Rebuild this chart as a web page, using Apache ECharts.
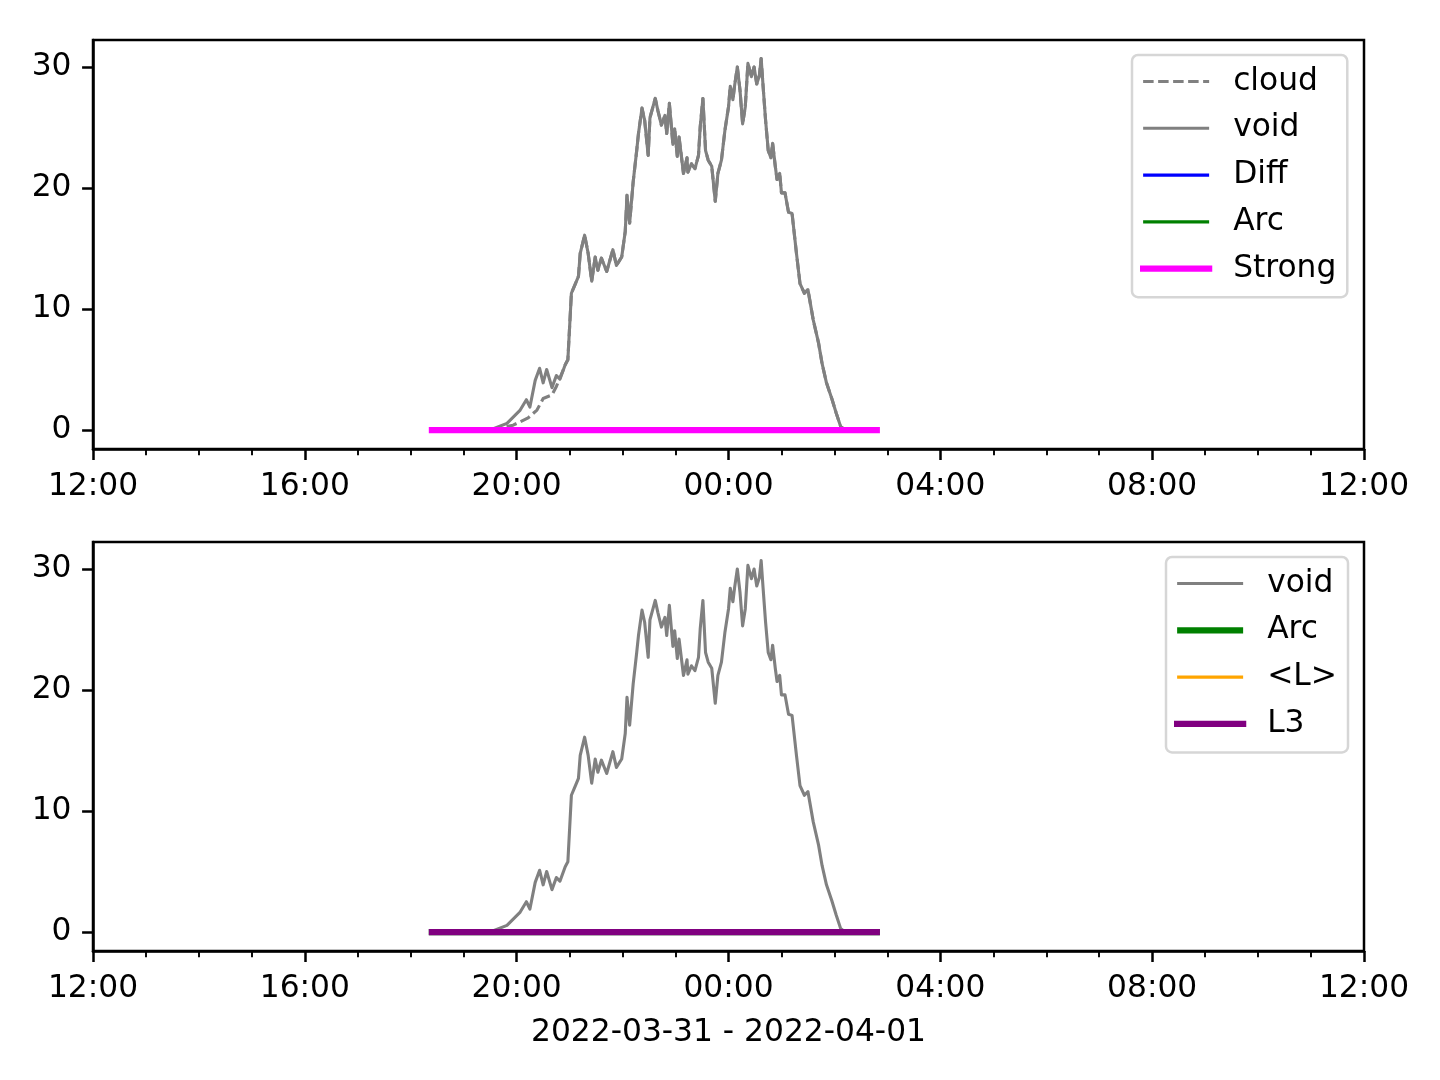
<!DOCTYPE html>
<html><head><meta charset="utf-8">
<script src="https://cdn.jsdelivr.net/npm/echarts@6/dist/echarts.min.js"></script>
<style>html,body{margin:0;padding:0;background:#fff}#c{width:1440px;height:1080px}</style>
</head><body><div id="c"></div>
<script>
// ---- data ----
const xTickLabels = ['12:00','16:00','20:00','00:00','04:00','08:00','12:00'];
const yTickValues = [0, 10, 20, 30];
const dateLabel = '2022-03-31 - 2022-04-01';

const voidTimes = ['18:24','19:30','19:49','20:04','20:11','20:15','20:21','20:26','20:30','20:34',
 '20:40','20:45','20:49','20:55','20:58','21:02','21:06','21:10','21:12','21:17',
 '21:21','21:25','21:29','21:32','21:36','21:42','21:49','21:53','21:59','22:03',
 '22:05','22:08','22:12','22:16','22:18','22:22','22:25','22:29','22:31','22:37',
 '22:40','22:44','22:48','22:50','22:53','22:57','22:59','23:02','23:04','23:09',
 '23:13','23:14','23:18','23:22','23:26','23:28','23:31','23:34','23:37','23:41',
 '23:45','23:48','23:52','23:56','00:00','00:02','00:05','00:07','00:10','00:13',
 '00:16','00:19','00:22','00:26','00:29','00:32','00:35','00:37','00:39','00:42',
 '00:45','00:48','00:50','00:53','00:55','00:58','01:00','01:04','01:08','01:12',
 '01:17','01:21','01:26','01:30','01:36','01:42','01:46','01:51','01:57','02:02',
 '02:07','02:12','02:48'];
const voidValues = [0,0,0.55,1.65,2.5,1.9,4.1,5.1,3.9,5.0,
 3.5,4.5,4.2,5.4,5.8,11.3,12.0,12.7,14.6,16.1,
 14.6,12.3,14.3,13.2,14.2,13.1,14.9,13.6,14.3,16.4,
 19.4,17.1,20.5,23.1,24.5,26.6,25.6,22.7,25.8,27.4,
 26.4,25.2,26.0,24.5,27.0,23.6,24.9,22.6,24.2,21.2,
 22.5,21.3,22.0,21.6,22.7,25.1,27.4,23.1,22.3,21.8,
 18.9,21.2,22.3,24.8,26.7,28.4,27.3,28.5,30.0,28.1,
 25.3,26.7,30.3,29.2,30.0,28.6,29.3,30.7,28.6,25.6,
 23.1,22.5,23.7,21.8,20.7,21.2,19.6,19.6,18.0,17.9,
 14.6,12.1,11.3,11.6,9.1,7.2,5.5,3.9,2.6,1.4,
 0.3,0,0];
// cloud differs from void only in the early rise; afterwards it lies on void
const cloudEarlyTimes = ['18:24','19:30','19:56','20:13','20:23','20:30','20:40','20:45','20:53'];
const cloudEarlyValues = [0,0,0.4,1.0,1.65,2.6,2.9,3.6,5.0];
const cloudJoinTime = '20:55';

const flatTimes = ['18:24','02:48'];
const diffValues = [0,0];
const arcValues = [0,0];
const strongValues = [0,0];
const lValues = [0,0];
const l3Values = [0,0];

// ---- helpers ----
function toH(s){ const p=s.split(':').map(Number); return (p[0]<12?p[0]+24:p[0]) - 12 + p[1]/60; }
function pts(times, vals){ return times.map((t,i)=>[toH(t), vals[i]]); }
const voidData = pts(voidTimes, voidValues);
const joinH = toH(cloudJoinTime);
const cloudData = pts(cloudEarlyTimes, cloudEarlyValues).concat(voidData.filter(p=>p[0]>=joinH));

const FONT = 'DejaVu Sans';
const FS = 31.3;
const LW1 = 3.1, LW2 = 6.25;
const GRAY='#808080', BLUE='#0000ff', GREEN='#008000', MAG='#ff00ff', ORANGE='#ffa500', PURPLE='#800080';
const DASH=[10.5,4.5];

function xAxis(gi, withName){
  const a = {
    type:'value', gridIndex:gi, min:0, max:24, interval:4,
    axisLine:{show:true,onZero:false,lineStyle:{color:'#000',width:2.5}},
    axisTick:{show:true,length:10.9,lineStyle:{color:'#000',width:2.5}},
    minorTick:{show:true,splitNumber:4,length:6.25,lineStyle:{color:'#000',width:1.9}},
    splitLine:{show:false}, minorSplitLine:{show:false},
    axisLabel:{fontFamily:FONT,fontSize:FS,color:'#000',margin:22,
      formatter:v=>xTickLabels[Math.round(v/4)]}
  };
  if(withName){
    a.name = dateLabel; a.nameLocation='middle'; a.nameGap=66;
    a.nameTextStyle={fontFamily:FONT,fontSize:FS,color:'#000'};
  }
  return a;
}
function yAxis(gi){
  return {
    type:'value', gridIndex:gi, min:-1.57, max:32.23,
    axisLine:{show:true,onZero:false,lineStyle:{color:'#000',width:2.5}},
    axisTick:{show:true,length:10.9,lineStyle:{color:'#000',width:2.5},customValues:yTickValues},
    splitLine:{show:false},
    axisLabel:{fontFamily:FONT,fontSize:FS,color:'#000',margin:21.5,padding:[4,0,0,0],customValues:yTickValues}
  };
}
function line(name, gi, data, color, width, dash){
  return {type:'line', name, xAxisIndex:gi, yAxisIndex:gi, data, symbol:'none',
    lineStyle:{color, width, type: dash||'solid', join:'round', cap: width>4?'square':'butt'},
    itemStyle:{color}, animation:false, silent:true};
}
function legItem(name, color, width, dash){
  return {name, lineStyle:{color, width, type: dash||'solid', opacity:1}, itemStyle:{opacity:0}};
}
const legendCommon = {
  orient:'vertical', itemWidth:66, itemHeight:31, itemGap:15.8,
  selectedMode:false, borderColor:'#d6d6d6', borderWidth:2.5, borderRadius:6,
  backgroundColor:'#fff',
  itemStyle:{opacity:0},
  textStyle:{fontFamily:FONT,fontSize:FS,color:'#000',lineHeight:31,padding:[0,0,0,19]}
};

const option = {
  backgroundColor:'#fff',
  animation:false,
  grid:[
    {left:93, top:40, width:1271, height:409, show:true, borderColor:'#000', borderWidth:2.5, backgroundColor:'transparent'},
    {left:93, top:542, width:1271, height:409, show:true, borderColor:'#000', borderWidth:2.5, backgroundColor:'transparent'}
  ],
  xAxis:[xAxis(0,false), xAxis(1,true)],
  yAxis:[yAxis(0), yAxis(1)],
  legend:[
    Object.assign({}, legendCommon, {left:1132, top:55, padding:[11,11,13,8],
      data:[legItem('cloud',GRAY,LW1,DASH), legItem('void',GRAY,LW1), legItem('Diff',BLUE,LW1),
            legItem('Arc',GREEN,LW1), legItem('Strong',MAG,LW2)]}),
    Object.assign({}, legendCommon, {left:1166, top:557, padding:[11,11,13,8],
      data:[legItem('void',GRAY,LW1), legItem('Arc',GREEN,LW2), legItem('<L>',ORANGE,LW1), legItem('L3',PURPLE,LW2)]})
  ],
  series:[
    line('cloud',0,cloudData,GRAY,LW1,DASH),
    line('void',0,voidData,GRAY,LW1),
    line('Diff',0,pts(flatTimes,diffValues),BLUE,LW1),
    line('Arc',0,pts(flatTimes,arcValues),GREEN,LW1),
    line('Strong',0,pts(flatTimes,strongValues),MAG,LW2),
    line('void',1,voidData,GRAY,LW1),
    line('Arc',1,pts(flatTimes,arcValues),GREEN,LW2),
    line('<L>',1,pts(flatTimes,lValues),ORANGE,LW1),
    line('L3',1,pts(flatTimes,l3Values),PURPLE,LW2)
  ]
};
const chart = echarts.init(document.getElementById('c'), null, {renderer:'canvas'});
chart.setOption(option);
</script>
</body></html>
